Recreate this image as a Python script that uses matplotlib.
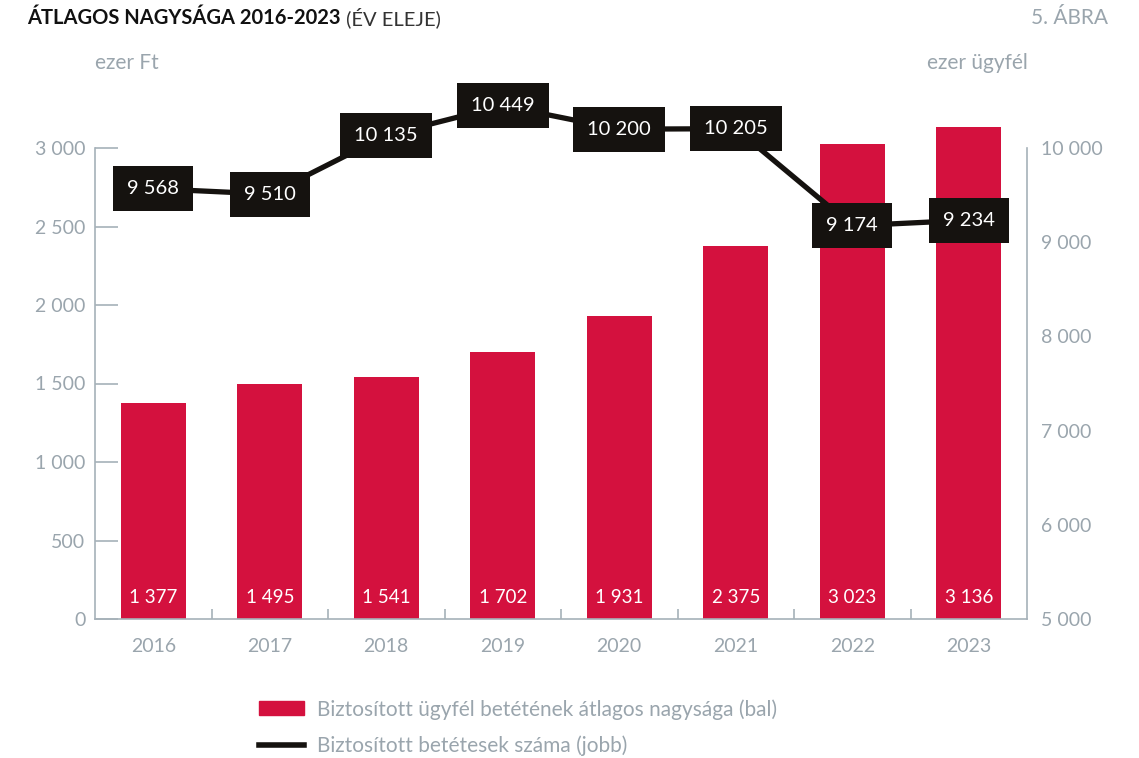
import numpy as np
import matplotlib.pyplot as plt
from matplotlib.patches import Patch
from matplotlib.lines import Line2D

plt.rcParams['font.family'] = ['Lato', 'DejaVu Sans']

years = ['2016', '2017', '2018', '2019', '2020', '2021', '2022', '2023']
avg_deposit = [1377, 1495, 1541, 1702, 1931, 2375, 3023, 3136]      # ezer Ft (bal)
depositors = [9568, 9510, 10135, 10449, 10200, 10205, 9174, 9234]   # ezer ügyfél (jobb)

def hu(v):
    # space as thousands separator
    return f'{v:,.0f}'.replace(',', ' ')

RED = '#d4113e'
BOX = '#15120f'
GRAY = '#a6b1b9'
TXT = '#9aa5ad'

fig = plt.figure(figsize=(11.39, 7.58), dpi=100)
ax = fig.add_axes([95/1139, 1 - 619/758, (1027-95)/1139, (619-148)/758])
ax2 = ax.twinx()

x = np.arange(len(years))
ax.bar(x, avg_deposit, width=0.56, color=RED, clip_on=False, zorder=2)
for xi, v in zip(x, avg_deposit):
    ax.text(xi, 140, hu(v), ha='center', va='center', color='white', fontsize=13.5, zorder=3)

ax.set_xlim(-0.5, len(years) - 0.5)
ax.set_ylim(0, 3000)
ax.set_yticks(np.arange(0, 3001, 500))
ax.set_yticklabels([hu(v) for v in np.arange(0, 3001, 500)])
ax.set_xticks(x)
ax.set_xticklabels(years)
ax.set_xticks(np.arange(0.5, len(years) - 1, 1), minor=True)

ax.tick_params(axis='y', direction='in', length=16.5, width=1.2, color=GRAY,
               labelcolor=TXT, labelsize=14, pad=7)
ax.tick_params(axis='x', which='major', length=0, labelcolor=TXT, labelsize=14, pad=14)
ax.tick_params(axis='x', which='minor', direction='in', length=7, width=1.2, color=GRAY)

for s in ['top', 'right']:
    ax.spines[s].set_visible(False)
for s in ['left', 'bottom']:
    ax.spines[s].set_color(GRAY)
    ax.spines[s].set_linewidth(1.2)

ax2.plot(x, depositors, color=BOX, lw=3.8, zorder=4, clip_on=False, solid_capstyle='butt')
for xi, v in zip(x, depositors):
    ax2.text(xi, v, hu(v), ha='center', va='center', color='white', fontsize=14.5, zorder=5,
             bbox=dict(boxstyle='square,pad=0.7', fc=BOX, ec='none'))
ax2.set_ylim(5000, 10000)
ax2.set_yticks(np.arange(5000, 10001, 1000))
ax2.set_yticklabels([hu(v) for v in np.arange(5000, 10001, 1000)])
ax2.tick_params(axis='y', length=0, labelcolor=TXT, labelsize=14, pad=10)
for s in ['top', 'left', 'bottom']:
    ax2.spines[s].set_visible(False)
ax2.spines['right'].set_color(GRAY)
ax2.spines['right'].set_linewidth(1.2)

# titles
t = fig.text(27/1139, 1 - 18/758, 'ÁTLAGOS NAGYSÁGA 2016-2023', fontsize=14.5, fontweight='bold',
             color='#111111', va='center', ha='left')
fig.canvas.draw()
ax.annotate(' (ÉV ELEJE)', xy=(1, 0.5), xycoords=t, fontsize=14.5, color='#333333',
            va='center', ha='left', annotation_clip=False)
fig.text(1108/1139, 1 - 18/758, '5. ÁBRA', fontsize=15, color=TXT, va='center', ha='right')
fig.text(95/1139, 1 - 63/758, 'ezer Ft', fontsize=15, color=TXT, va='center', ha='left')
fig.text(1028/1139, 1 - 63/758, 'ezer ügyfél', fontsize=15, color=TXT, va='center', ha='right')

handles = [Patch(color=RED), Line2D([0], [0], color=BOX, lw=4)]
labels = ['Biztosított ügyfél betétének átlagos nagysága (bal)', 'Biztosított betétesek száma (jobb)']
fig.legend(handles, labels, loc='upper left', bbox_to_anchor=(259/1139, 1 - 699/758),
           frameon=False, fontsize=15, labelcolor=TXT, handlelength=2.15, handleheight=0.65,
           handletextpad=0.65, labelspacing=0.75, borderpad=0, borderaxespad=0)

fig.savefig('out.png', dpi=100)
